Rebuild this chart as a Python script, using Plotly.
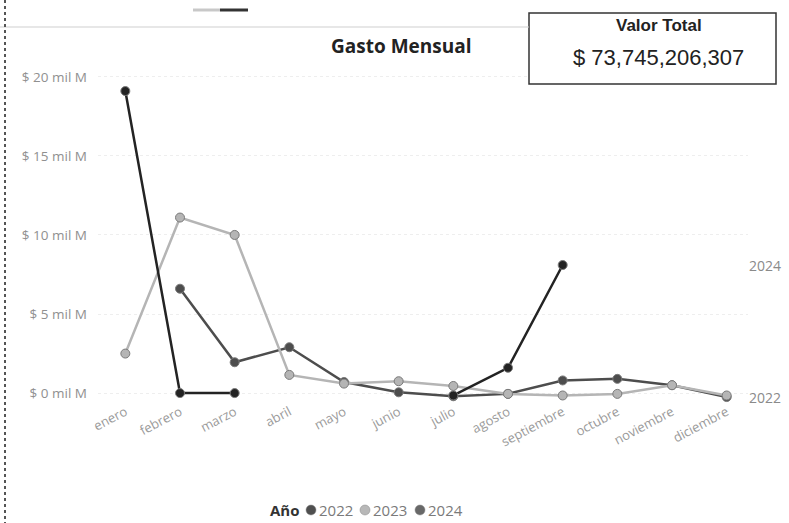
import plotly.graph_objects as go

meses = ["enero", "febrero", "marzo", "abril", "mayo", "junio", "julio",
         "agosto", "septiembre", "octubre", "noviembre", "diciembre"]
gasto_2022 = [None, 6.6, 1.95, 2.9, 0.7, 0.05, -0.2, -0.05, 0.8, 0.9, 0.5, -0.25]
gasto_2023 = [2.5, 11.1, 10.0, 1.15, 0.6, 0.75, 0.45, -0.05, -0.15, -0.05, 0.5, -0.15]
gasto_2024 = [19.1, 0.0, 0.0, None, None, None, -0.15, 1.6, 8.1, None, None, None]
y_ticks = [0, 5, 10, 15, 20]
y_tick_labels = ["$ 0 mil M", "$ 5 mil M", "$ 10 mil M", "$ 15 mil M", "$ 20 mil M"]
anios = ["2022", "2023", "2024"]
valor_total = "$ 73,745,206,307"

line_colors = ["#4d4d4d", "#b5b5b5", "#232323"]
legend_colors = ["#4f4f4f", "#b8b8b8", "#686868"]
series_values = [gasto_2022, gasto_2023, gasto_2024]

W, H = 789, 523
L, R, T, B = 98, 748, 61, 401


def px(x):
    return (x - L) / (R - L)


def py(y):
    return (B - y) / (B - T)


fig = go.Figure()
for name, vals, col in zip(anios, series_values, line_colors):
    fig.add_trace(go.Scatter(
        x=meses, y=vals, mode="lines+markers", name=name, showlegend=False,
        line=dict(color=col, width=2.5),
        marker=dict(size=9, color=col, line=dict(color="#7a7a7a", width=1)),
        connectgaps=False, cliponaxis=False))

font_fam = "Open Sans, Noto Sans, sans-serif"
fig.update_layout(
    width=W, height=H,
    margin=dict(l=L, r=W - R, t=T, b=H - B, pad=0),
    paper_bgcolor="white", plot_bgcolor="white",
    font=dict(family=font_fam, color="#909090", size=13),
    showlegend=False,
    xaxis=dict(type="category", range=[-0.5, 11.39], showgrid=False, zeroline=False,
               showline=False, ticks="", tickangle=-28,
               tickfont=dict(size=13, color="#9a9a9a"), automargin=False),
    yaxis=dict(range=[-0.5, 21], tickvals=y_ticks, ticktext=y_tick_labels,
               showgrid=True, gridcolor="#eeeeee", griddash="dot", gridwidth=1,
               zeroline=False, showline=False, ticks="", ticklabelstandoff=10,
               tickfont=dict(size=13.5, color="#909090"), automargin=False),
)

# Title
fig.add_annotation(text="<b>Gasto Mensual</b>", xref="paper", yref="paper",
                   x=px(401), y=py(46), showarrow=False, xanchor="center", yanchor="middle",
                   font=dict(size=19, color="#222222", family=font_fam))

# End labels
fig.add_annotation(text=anios[2], xref="paper", yref="y", x=px(747), y=gasto_2024[8],
                   showarrow=False, xanchor="left", yanchor="middle",
                   font=dict(size=14, color="#8a8a8a"))
fig.add_annotation(text=anios[0], xref="paper", yref="y", x=px(747), y=gasto_2022[11],
                   showarrow=False, xanchor="left", yanchor="middle",
                   font=dict(size=14, color="#8a8a8a"))

# Value card
fig.add_shape(type="rect", xref="paper", yref="paper", x0=px(529), x1=px(776),
              y0=py(84), y1=py(13), line=dict(color="#333333", width=1.5),
              fillcolor="white", layer="above")
fig.add_annotation(text="<b>Valor Total</b>", xref="paper", yref="paper",
                   x=px(659), y=py(26), showarrow=False, xanchor="center", yanchor="middle",
                   font=dict(size=17, color="#222222", family="Liberation Sans, Arial"))
fig.add_annotation(text=valor_total, xref="paper", yref="paper",
                   x=px(658), y=py(57), showarrow=False, xanchor="center", yanchor="middle",
                   font=dict(size=22, color="#222222", family="Liberation Sans, Arial"))

# Legend (bottom)
fig.add_annotation(text="<b>Año</b>", xref="paper", yref="paper", x=px(268), y=py(510),
                   showarrow=False, xanchor="left", yanchor="middle",
                   font=dict(size=15, color="#333333", family=font_fam))
leg_x = [311, 365, 420]
for name, col, lx in zip(anios, legend_colors, leg_x):
    fig.add_shape(type="circle", xref="paper", yref="paper",
                  x0=px(lx - 5), x1=px(lx + 5), y0=py(515), y1=py(505),
                  fillcolor=col, line=dict(color="#888888", width=0.5))
    fig.add_annotation(text=name, xref="paper", yref="paper", x=px(lx + 6), y=py(510),
                       showarrow=False, xanchor="left", yanchor="middle",
                       font=dict(size=15, color="#7a7a7a", family=font_fam))

# Decorations: top rule, left border, small bar
fig.add_shape(type="line", xref="paper", yref="paper", x0=px(0), x1=px(529),
              y0=py(27), y1=py(27), line=dict(color="#cfcfcf", width=1))
fig.add_shape(type="line", xref="paper", yref="paper", x0=px(5), x1=px(5),
              y0=py(0), y1=py(523), line=dict(color="#555555", width=2, dash="dot"))
fig.add_shape(type="line", xref="paper", yref="paper", x0=px(193), x1=px(220),
              y0=py(10), y1=py(10), line=dict(color="#c8c8c8", width=3))
fig.add_shape(type="line", xref="paper", yref="paper", x0=px(220), x1=px(248),
              y0=py(10), y1=py(10), line=dict(color="#333333", width=3))

fig.write_html("out.html", config={"displayModeBar": False},
               post_script="document.body.style.margin='0px';")
